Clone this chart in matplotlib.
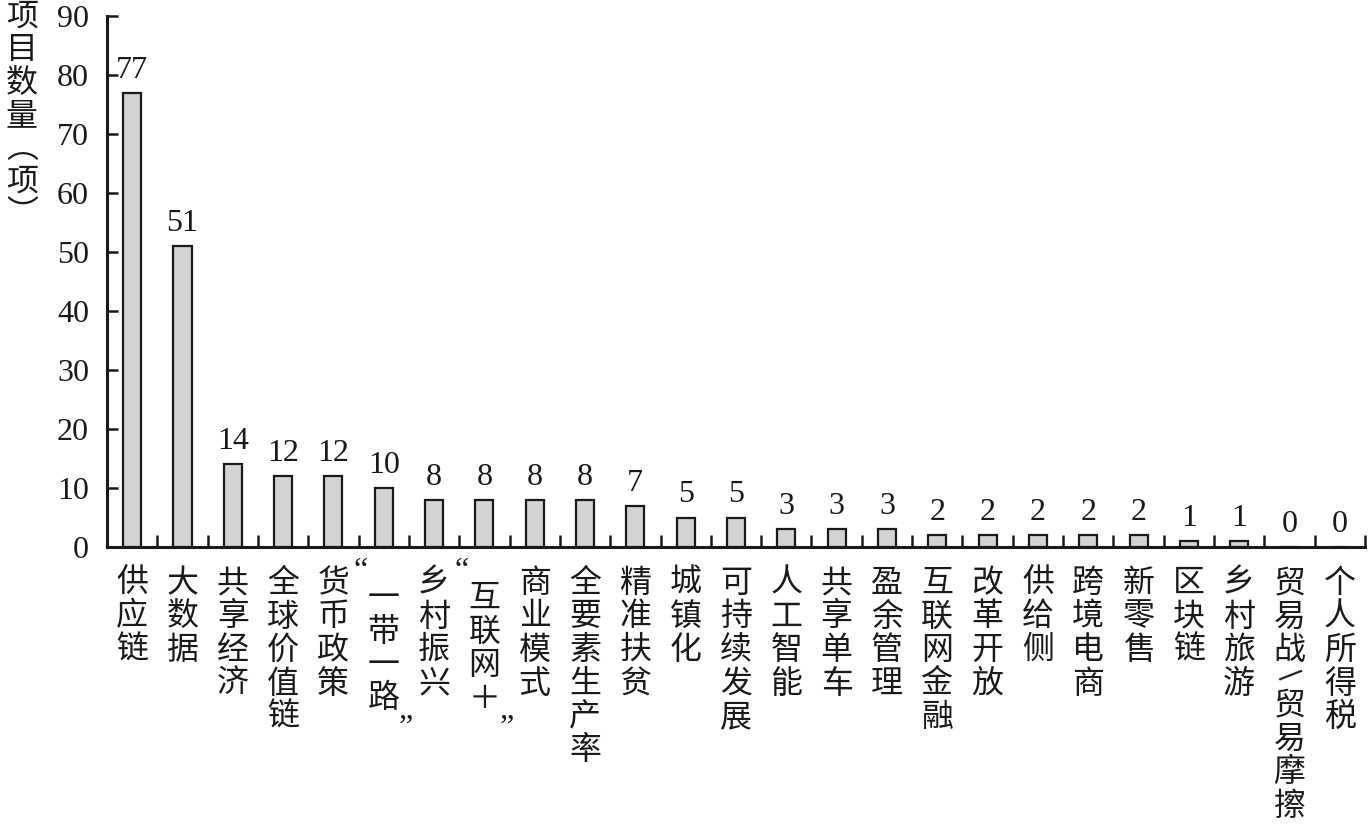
"""
项目数量柱状图（按关键词）
"""
import numpy as np
import matplotlib
matplotlib.use('Agg')
import matplotlib.pyplot as plt

categories = ['供应链', '大数据', '共享经济', '全球价值链', '货币政策', '“一带一路”',
              '乡村振兴', '“互联网＋”', '商业模式', '全要素生产率', '精准扶贫', '城镇化',
              '可持续发展', '人工智能', '共享单车', '盈余管理', '互联网金融', '改革开放',
              '供给侧', '跨境电商', '新零售', '区块链', '乡村旅游', '贸易战/贸易摩擦', '个人所得税']
values = [77, 51, 14, 12, 12, 10, 8, 8, 8, 8, 7, 5, 5, 3, 3, 3, 2, 2, 2, 2, 2, 1, 1, 0, 0]
y_label = '项目数量（项）'
y_ticks = list(range(0, 100, 10))

W, H = 1369, 826
CJK = ['Noto Sans CJK SC', 'DejaVu Sans']
SERIF = ['Liberation Serif', 'DejaVu Serif']
plt.rcParams['font.family'] = CJK

fig = plt.figure(figsize=(W / 100, H / 100), dpi=100)
ax = fig.add_axes([107 / W, 1 - 547 / H, (1365 - 107) / W, (547 - 16) / H])

x = np.arange(len(categories))
ax.bar(x, values, width=0.36, color='#d3d3d3', edgecolor='#1a1a1a', linewidth=1.6, zorder=2)

ax.set_xlim(-0.5, len(categories) - 0.5)
ax.set_ylim(0, 90)
ax.set_yticks(y_ticks)
ax.set_yticklabels([str(t) for t in y_ticks], family=SERIF, fontsize=23)
ax.tick_params(axis='y', direction='in', length=8, width=1.8, pad=13, colors='#1a1a1a')
ax.set_xticks(x)
ax.set_xticklabels([])
ax.tick_params(axis='x', which='major', length=0)
ax.set_xticks(np.arange(0.5, len(categories)), minor=True)
ax.tick_params(axis='x', which='minor', direction='in', length=9, width=1.8, color='#1a1a1a')
for s in ['top', 'right']:
    ax.spines[s].set_visible(False)
for s in ['left', 'bottom']:
    ax.spines[s].set_linewidth(2.2)
    ax.spines[s].set_color('#1a1a1a')

# значения над столбцами
for xi, v in zip(x, values):
    ax.annotate(str(v), xy=(xi, v), xytext=(0, 15), textcoords='offset pixels',
                ha='center', va='baseline', family=SERIF, fontsize=23, color='#1a1a1a')

# вертикальные подписи категорий
step = 33.5
for i, lab in enumerate(categories):
    lead = lab.startswith('“')
    trail = lab.endswith('”')
    body = lab.strip('“”')
    dy = -51 if lead else -36
    if lead:
        ax.annotate('“', xy=(i, 0), xycoords=('data', 'axes fraction'), xytext=(-23, -25),
                    textcoords='offset pixels', ha='center', va='center',
                    family=SERIF, fontsize=23, color='#1a1a1a')
    for k, ch in enumerate(body):
        if k > 0:
            dy -= step
        if ch == '/':
            dy += 8
            ax.annotate('/', xy=(i, 0), xycoords=('data', 'axes fraction'), xytext=(0, dy),
                        textcoords='offset pixels', ha='center', va='center', rotation=-52,
                        family=['DejaVu Sans'], fontsize=20, color='#1a1a1a')
            dy += 4
            continue
        ax.annotate(ch, xy=(i, 0), xycoords=('data', 'axes fraction'), xytext=(0, dy),
                    textcoords='offset pixels', ha='center', va='center',
                    fontsize=23, color='#1a1a1a')
    if trail:
        ax.annotate('”', xy=(i, 0), xycoords=('data', 'axes fraction'), xytext=(22, dy - 30),
                    textcoords='offset pixels', ha='center', va='center',
                    family=SERIF, fontsize=23, color='#1a1a1a')

# подпись оси Y вертикально
ych = y_label.replace('（', '︵').replace('）', '︶')
for k, ch in enumerate(ych):
    fig.text(22 / W, 1 - (17 + k * 33) / H, ch, ha='center', va='center',
             fontsize=23, color='#1a1a1a')

fig.savefig('out.png', dpi=100)
